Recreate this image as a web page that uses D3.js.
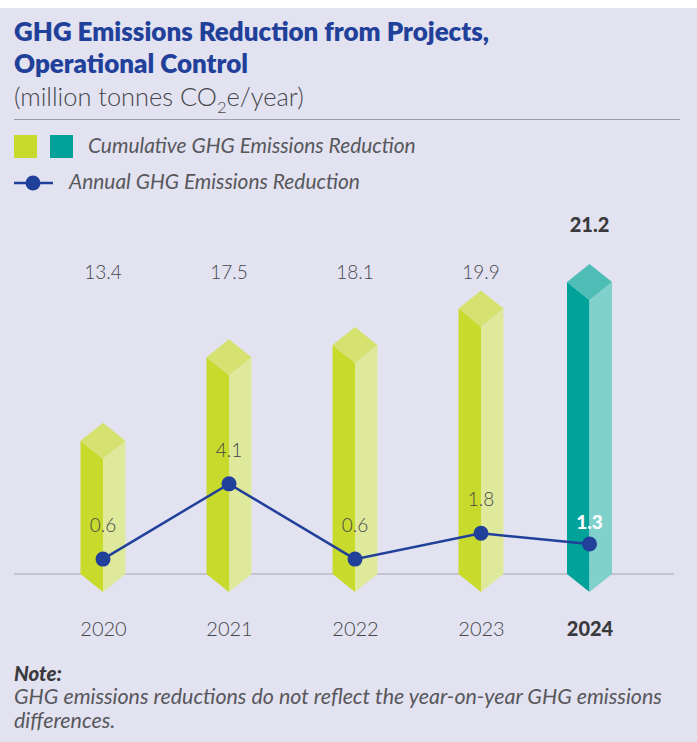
<!DOCTYPE html>
<html><head><meta charset="utf-8">
<script src="https://cdn.jsdelivr.net/npm/d3@7"></script>
<style>
body{margin:0;background:#fff}
svg{display:block}
text{font-family:Lato,"Noto Sans",sans-serif}
</style>
</head><body>
<svg id="c" width="697" height="742"></svg>
<script>
// ---- data ----
const years = ["2020", "2021", "2022", "2023", "2024"];
const cumulative = [13.4, 17.5, 18.1, 19.9, 21.2];
const annual = [0.6, 4.1, 0.6, 1.8, 1.3];
const highlightYear = "2024";
const titleLines = ["GHG Emissions Reduction from Projects,", "Operational Control"];
const legendLabels = ["Cumulative GHG Emissions Reduction", "Annual GHG Emissions Reduction"];
const noteLines = ["GHG emissions reductions do not reflect the year-on-year GHG emissions", "differences."];

// ---- layout / style ----
const W = 697, H = 742;
const C = {
  bg: "#e2e2f0", blue: "#21409a", text: "#57575c", light: "#46464b", dark: "#3a3a3e",
  limeL: "#c8da2c", limeR: "#dfe99c", limeT: "#d5e270",
  tealL: "#00a29a", tealR: "#80d1cc", tealT: "#4dbdb6",
  base: "#c4c4ce", rule: "#9c9caa"
};
const svg = d3.select("#c");
svg.append("rect").attr("x", 0).attr("y", 8).attr("width", W).attr("height", H - 8).attr("fill", C.bg);

function fit(sel, target) {
  const n = sel.node();
  const fs = parseFloat(sel.attr("font-size"));
  const w = n.getComputedTextLength();
  sel.attr("font-size", (fs * target / w).toFixed(2));
  return sel;
}

// title
const t1 = svg.append("text").attr("x", 14).attr("y", 41).attr("font-size", 22).attr("font-weight", 800).attr("fill", C.blue).text(titleLines[0]);
fit(t1, 475);
const t2 = svg.append("text").attr("x", 14).attr("y", 73).attr("font-size", 22).attr("font-weight", 800).attr("fill", C.blue).text(titleLines[1]);
t2.attr("font-size", t1.attr("font-size"));
const sub = svg.append("text").attr("x", 14).attr("y", 106).attr("font-size", 20).attr("font-weight", 300).attr("fill", C.light);
sub.append("tspan").text("(million tonnes CO");
sub.append("tspan").attr("font-size", "0.65em").attr("dy", 7).text("2");
sub.append("tspan").attr("dy", -7).text("e/year)");
fit(sub, 290);
svg.append("line").attr("x1", 14).attr("x2", 680).attr("y1", 119.5).attr("y2", 119.5).attr("stroke", C.rule).attr("stroke-width", 1);

// legend
svg.append("rect").attr("x", 14).attr("y", 135).attr("width", 23).attr("height", 23).attr("fill", C.limeL);
svg.append("rect").attr("x", 50).attr("y", 135).attr("width", 23).attr("height", 23).attr("fill", C.tealL);
const l1 = svg.append("text").attr("x", 88).attr("y", 153).attr("font-size", 17).attr("font-style", "italic").attr("fill", C.text).text(legendLabels[0]);
fit(l1, 328);
svg.append("line").attr("x1", 14).attr("x2", 53).attr("y1", 183).attr("y2", 183).attr("stroke", C.blue).attr("stroke-width", 2.5);
svg.append("circle").attr("cx", 33).attr("cy", 183).attr("r", 7.5).attr("fill", C.blue);
const l2 = svg.append("text").attr("x", 69).attr("y", 189).attr("font-size", 17).attr("font-style", "italic").attr("fill", C.text).text(legendLabels[1]);
l2.attr("font-size", l1.attr("font-size"));

// scales
const x = d3.scaleOrdinal().domain(years).range([103, 229, 355, 481, 589.5]);
const baseY = 574;
const yBar = d3.scaleLinear().domain([6.86, 21.2]).range([baseY, 282]);
const yLine = d3.scaleLinear().domain([0, 5]).range([572, 464.5]);

// baseline
svg.append("line").attr("x1", 14).attr("x2", 674).attr("y1", baseY).attr("y2", baseY).attr("stroke", C.base).attr("stroke-width", 2);

// bars (3D prisms)
const hw = 22.5, d = 18;
const rows = years.map((y, i) => ({ year: y, cum: cumulative[i], ann: annual[i], hi: y === highlightYear }));
const g = svg.append("g");
rows.forEach(r => {
  const cx = x(r.year), top = yBar(r.cum);
  const pts = a => a.map(p => p.join(",")).join(" ");
  g.append("polygon").attr("points", pts([[cx - hw, top], [cx, top + d], [cx, baseY + d], [cx - hw, baseY]])).attr("fill", r.hi ? C.tealL : C.limeL);
  g.append("polygon").attr("points", pts([[cx, top + d], [cx + hw, top], [cx + hw, baseY], [cx, baseY + d]])).attr("fill", r.hi ? C.tealR : C.limeR);
  g.append("polygon").attr("points", pts([[cx - hw, top], [cx, top - d], [cx + hw, top], [cx, top + d]])).attr("fill", r.hi ? C.tealT : C.limeT);
});

// cumulative labels
rows.forEach(r => {
  svg.append("text").attr("x", x(r.year)).attr("y", r.hi ? 232 : 279)
    .attr("text-anchor", "middle").attr("font-size", r.hi ? 20 : 19)
    .attr("font-weight", r.hi ? 900 : 300).attr("fill", r.hi ? C.dark : C.light).text(r.cum.toFixed(1));
});

// annual line
const line = d3.line().x(r => x(r.year)).y(r => yLine(r.ann));
svg.append("path").datum(rows).attr("d", line).attr("fill", "none").attr("stroke", C.blue).attr("stroke-width", 2.5);
svg.selectAll(".dot").data(rows).enter().append("circle").attr("cx", r => x(r.year)).attr("cy", r => yLine(r.ann)).attr("r", 7.5).attr("fill", C.blue);
rows.forEach(r => {
  svg.append("text").attr("x", x(r.year)).attr("y", yLine(r.ann) - (r.hi ? 15 : 27))
    .attr("text-anchor", "middle").attr("font-size", 19)
    .attr("font-weight", r.hi ? 900 : 300).attr("fill", r.hi ? "#ffffff" : C.light).text(r.ann.toFixed(1));
});

// year labels (axis)
const axis = d3.axisBottom(x).tickSize(0).tickPadding(0);
const ax = svg.append("g").attr("transform", "translate(0,621)").call(axis);
ax.select(".domain").remove();
ax.selectAll("text").attr("font-size", 20).attr("font-family", "Lato").attr("dy", 0).attr("y", 15)
  .attr("fill", d => d === highlightYear ? C.dark : C.light)
  .attr("font-weight", d => d === highlightYear ? 900 : 300);

// note
const nt = svg.append("text").attr("x", 14).attr("y", 681).attr("font-size", 17).attr("font-weight", 900).attr("font-style", "italic").attr("fill", C.dark).text("Note:");
fit(nt, 48);
const n1 = svg.append("text").attr("x", 14).attr("y", 704).attr("font-size", 17).attr("font-style", "italic").attr("fill", C.text).text(noteLines[0]);
fit(n1, 648);
svg.append("text").attr("x", 14).attr("y", 728).attr("font-size", n1.attr("font-size")).attr("font-style", "italic").attr("fill", C.text).text(noteLines[1]);
</script>
</body></html>
